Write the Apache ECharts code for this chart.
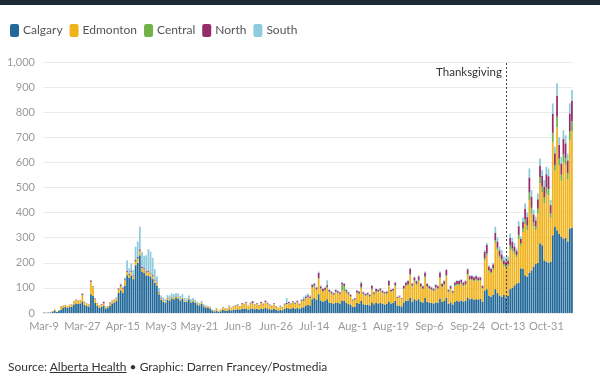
<!DOCTYPE html>
<html><head><meta charset="utf-8">
<script src="https://cdn.jsdelivr.net/npm/echarts@6/dist/echarts.min.js"></script>
<style>
html,body{margin:0;padding:0;background:#fff;}
#wrap{position:relative;width:600px;height:382px;overflow:hidden;}
#topbar{position:absolute;left:0;top:0;width:600px;height:5px;background:#1d2b38;}
#chart{position:absolute;left:0;top:0;width:600px;height:382px;}
#src{position:absolute;left:8px;top:359px;font-family:Lato,sans-serif;font-size:12px;color:#333;}
#src u{text-decoration:underline;}
</style></head>
<body><div id="wrap"><div id="chart"></div><div id="topbar"></div><div id="src">Source: <u>Alberta Health</u> • Graphic: Darren Francey/Postmedia</div></div>
<script>
const seriesNames = ['Calgary','Edmonton','Central','North','South'];
const tickLabels = ['Mar-9','Mar-27','Apr-15','May-3','May-21','Jun-8','Jun-26','Jul-14','Aug-1','Aug-19','Sep-6','Sep-24','Oct-13','Oct-31'];
const startDate = [2020, 2, 9];
const thanksgiving = 'Oct-12';

const calgary = [
2,1,2,2,6,10,4,9,12,22,
24,20,24,25,34,38,36,38,46,32,
28,26,75,68,40,28,20,24,30,18,
20,30,38,42,48,80,90,80,110,150,
140,150,135,190,200,230,165,160,150,150,
145,135,120,110,75,52,45,40,52,50,
58,55,60,58,50,56,45,44,54,42,
46,40,34,30,36,26,22,20,18,10,
6,10,5,7,12,10,9,14,10,12,
14,15,12,17,16,18,13,18,18,15,
17,14,18,16,20,18,15,13,17,12,
10,13,11,16,20,18,16,20,17,20,
16,22,23,30,32,30,55,60,52,75,
50,45,48,55,42,40,36,42,40,38,
50,48,40,36,32,24,26,40,38,48,
35,32,34,30,42,35,40,38,40,36,
34,36,45,38,40,48,30,30,26,42,
48,50,60,45,55,50,55,45,42,60,
45,42,40,38,42,40,58,44,48,60,
36,42,34,45,48,46,50,46,48,62,
55,58,52,55,54,56,45,90,95,70,
65,72,95,80,70,65,72,62,68,
95,100,110,118,120,178,175,150,145,160,
170,185,195,200,278,270,210,205,200,205,
310,343,330,315,305,295,300,285,337,340];

const edmonton = [
0,0,1,0,2,4,1,2,14,7,
7,7,8,9,12,15,12,12,24,11,
8,7,48,35,15,10,8,7,8,5,
6,8,9,10,10,12,15,15,18,12,
10,12,10,14,15,15,12,12,10,12,
10,10,8,8,6,5,5,4,5,5,
4,5,4,5,4,4,4,3,4,3,
4,4,4,4,5,4,4,4,4,3,
4,7,4,6,10,8,7,12,9,12,
14,16,13,18,18,21,14,19,20,16,
18,14,20,17,22,19,16,13,18,12,
9,13,11,17,15,20,18,21,19,22,
17,25,25,28,30,28,45,45,40,60,
45,40,42,45,40,36,34,40,38,36,
40,38,40,36,32,24,26,38,36,50,
38,35,36,34,50,38,44,44,46,42,
40,40,62,45,46,58,28,32,28,52,
60,62,90,60,70,62,72,58,52,80,
58,53,50,48,56,54,80,58,62,85,
46,53,44,62,63,64,66,60,63,88,
75,72,74,76,73,72,52,120,135,95,
92,100,185,170,150,140,115,118,118,
160,145,125,105,175,90,148,205,185,290,
225,160,135,195,240,212,228,270,268,175,
370,225,410,272,222,305,288,248,350,385];

const central = [
0,0,0,0,0,0,0,1,1,1,
0,1,0,0,1,1,1,1,2,1,
1,1,2,2,1,1,1,1,1,1,
1,1,1,1,1,2,2,2,2,2,
2,2,2,2,2,3,2,2,2,2,
2,2,2,1,1,1,1,1,1,1,
1,1,1,1,1,1,1,1,1,1,
1,1,1,1,1,1,0,1,0,0,
0,1,0,0,1,0,0,1,1,1,
1,1,1,1,1,2,1,1,2,1,
1,1,2,1,2,1,1,1,1,1,
1,1,1,1,1,2,1,2,1,2,
1,2,2,2,3,2,4,4,3,5,
3,3,3,4,3,3,3,3,3,3,
25,22,5,5,4,3,3,5,5,6,
4,4,4,4,5,4,4,4,5,4,
4,4,5,4,4,5,2,3,2,4,
4,4,6,4,5,4,5,4,4,5,
4,4,4,4,4,4,5,4,5,6,
4,4,3,5,5,5,5,5,5,6,
5,5,4,5,4,4,3,8,8,6,
6,7,10,10,8,8,8,8,8,
15,12,10,8,16,10,14,20,18,30,
24,16,14,20,24,22,22,26,26,17,
38,22,42,28,24,32,30,25,36,40];

const north = [
0,0,0,0,0,0,0,0,1,0,
1,0,1,1,1,1,1,1,5,1,
1,1,4,2,2,1,1,3,6,1,
1,3,1,1,2,4,6,4,4,4,
4,4,3,5,6,6,5,4,4,5,
4,4,3,3,3,2,2,1,2,2,
1,1,2,1,1,1,1,1,1,1,
1,1,1,1,1,1,1,1,1,0,
1,1,0,1,1,1,1,2,1,2,
2,2,1,3,2,3,1,3,7,2,
3,2,4,3,5,3,2,2,3,2,
1,2,1,3,4,4,3,4,3,4,
3,4,5,6,6,5,8,8,7,20,
8,8,8,7,7,6,6,7,6,6,
6,8,7,6,5,3,4,7,7,15,
6,5,6,5,12,6,8,7,7,6,
5,6,15,6,6,10,4,4,3,10,
10,11,20,8,12,11,14,10,9,16,
10,8,8,7,10,9,18,10,12,20,
6,8,6,10,11,12,11,11,11,18,
12,12,12,11,11,10,8,25,33,14,
12,15,30,25,22,20,15,16,15,
30,26,20,16,35,17,27,40,34,60,
45,31,25,38,46,42,44,52,51,33,
75,46,85,55,45,62,58,50,72,80];

const south = [
0,0,0,0,0,1,0,0,0,0,
0,0,0,0,0,0,0,0,1,0,
0,0,1,1,0,0,0,0,0,0,
0,0,1,1,1,2,5,4,6,42,
22,30,22,53,62,90,60,50,64,86,
84,69,42,23,15,10,9,9,12,12,
14,13,13,13,12,13,9,9,10,8,
8,6,5,4,5,3,3,2,2,2,
1,1,1,1,1,1,1,1,1,1,
1,1,1,1,1,1,1,1,1,1,
1,1,1,1,1,1,1,1,1,1,
1,1,1,1,20,1,2,1,2,2,
1,2,10,6,7,5,3,3,3,5,
4,4,4,20,3,3,3,3,3,2,
4,4,3,2,2,1,1,2,2,6,
2,2,2,2,3,2,2,2,2,2,
2,2,3,2,2,4,1,1,1,2,
3,3,4,3,3,3,4,3,3,4,
3,3,3,3,3,3,4,4,3,4,
3,3,3,3,3,3,3,3,3,4,
3,3,3,3,3,3,2,7,8,5,
5,6,24,15,15,17,15,18,16,
17,15,13,10,20,10,16,22,18,36,
26,18,15,23,28,24,26,30,30,20,
42,26,48,30,26,34,32,27,40,43];

const months = ['Jan','Feb','Mar','Apr','May','Jun','Jul','Aug','Sep','Oct','Nov','Dec'];
const categories = [];
for (let i = 0; i < calgary.length; i++) {
  const d = new Date(Date.UTC(startDate[0], startDate[1], startDate[2] + i));
  categories.push(months[d.getUTCMonth()] + '-' + d.getUTCDate());
}

const colors = ['#22699a','#f1b31c','#72b04a','#952c6c','#8ecbdd'];
const dataSets = [calgary, edmonton, central, north, south];
const font = 'Lato, sans-serif';

const series = dataSets.map((arr, k) => ({
  name: seriesNames[k],
  type: 'bar',
  stack: 'total',
  barCategoryGap: '18%',
  data: arr,
  itemStyle: { color: colors[k] },
  emphasis: { disabled: true }
}));
series[4].markLine = {
  silent: true, symbol: 'none', animation: false,
  lineStyle: { type: [2, 2], color: '#444', width: 1 },
  label: { show: false },
  data: [{ xAxis: thanksgiving }]
};
series[4].markPoint = {
  silent: true, symbol: 'circle', symbolSize: 0, animation: false,
  label: { show: true, position: 'left', distance: 4, formatter: 'Thanksgiving', color: '#333', fontSize: 11.5, fontFamily: font },
  data: [{ coord: [thanksgiving, 958] }]
};

const chart = echarts.init(document.getElementById('chart'), null, { renderer: 'canvas' });
chart.setOption({
  animation: false,
  color: colors,
  textStyle: { fontFamily: font },
  legend: {
    left: 5, top: 19, icon: 'roundRect', itemWidth: 9, itemHeight: 13, itemGap: 7,
    textStyle: { fontSize: 12, color: '#555', fontFamily: font, padding: [0, 0, 0, -1] },
    data: seriesNames
  },
  grid: { left: 43, right: 27, top: 62, bottom: 69, containLabel: false },
  xAxis: {
    type: 'category', data: categories,
    axisLine: { show: false }, axisTick: { show: false },
    axisLabel: {
      interval: (i, v) => tickLabels.includes(v),
      color: '#9a9a9a', fontSize: 11, margin: 8, fontFamily: font
    }
  },
  yAxis: {
    type: 'value', min: 0, max: 1000, interval: 100,
    axisLine: { show: false }, axisTick: { show: false },
    axisLabel: { color: '#9a9a9a', fontSize: 11, margin: 8, fontFamily: font,
      formatter: v => v.toLocaleString('en-US') },
    splitLine: { lineStyle: { color: '#ebebeb', width: 1 } }
  },
  series: series
});
</script>
</body></html>
